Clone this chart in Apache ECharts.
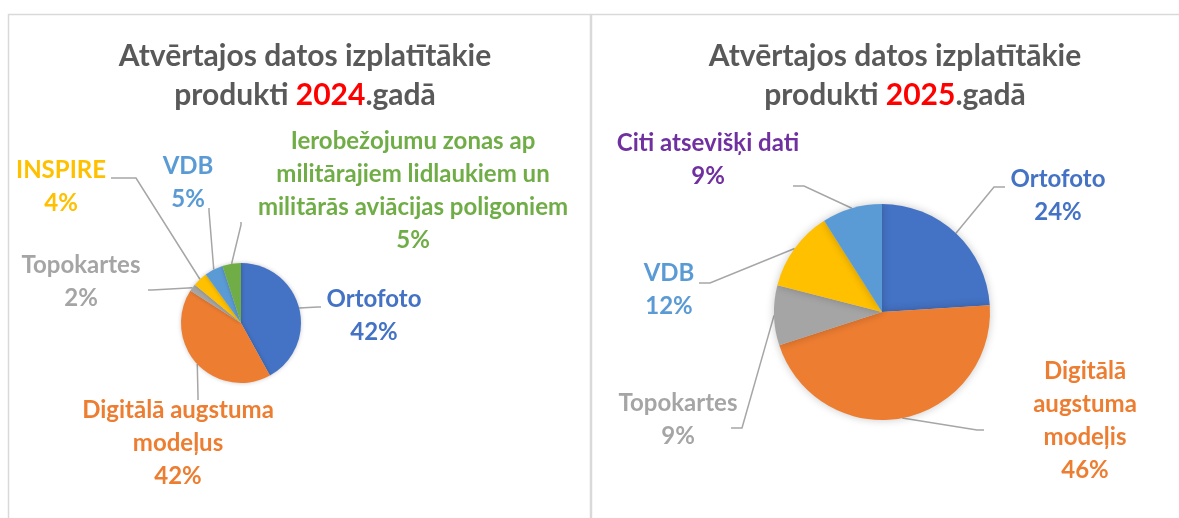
<!DOCTYPE html>
<html>
<head>
<meta charset="utf-8">
<script src="https://cdn.jsdelivr.net/npm/echarts@6/dist/echarts.min.js"></script>
<style>
html, body { margin: 0; background: #fff; }
#chart { width: 1179px; height: 518px; }
</style>
</head>
<body>
<div id="chart"></div>
<script>
// data
const years = ['2024', '2025'];

const names2024 = [
    'Ortofoto',
    'Digitālā augstuma\nmodeļus',
    'Topokartes',
    'INSPIRE',
    'VDB',
    'Ierobežojumu zonas ap\nmilitārajiem lidlaukiem un\nmilitārās aviācijas poligoniem'
];
const values2024 = [42, 42, 2, 4, 5, 5];

const names2025 = ['Ortofoto', 'Digitālā\naugstuma\nmodeļis', 'Topokartes', 'VDB', 'Citi atsevišķi dati'];
const values2025 = [24, 46, 9, 12, 9];

// colours
const sliceColors2024 = ['#4472C4', '#ED7D31', '#A5A5A5', '#FFC000', '#5B9BD5', '#70AD47'];
const labelColors2024 = ['#4472C4', '#ED7D31', '#A5A5A5', '#FFC000', '#5B9BD5', '#70AD47'];
const sliceColors2025 = ['#4472C4', '#ED7D31', '#A5A5A5', '#FFC000', '#5B9BD5'];
const labelColors2025 = ['#4472C4', '#ED7D31', '#A5A5A5', '#5B9BD5', '#7030A0'];

// label anchor (centre of the label block), px
const labelPos = [
    [[374, 316], [178, 443], [81, 282], [61, 187], [188, 183], [413, 191]],
    [[1058, 196], [1085, 421], [678, 420], [669, 290], [708, 160]]
];
// leader line: bend point and end point near the label, px
const leaderEnds = [
    [[[318, 307], [321, 307]], [[198, 396], [198, 400]], [[152, 290], [148, 290]],
     [[136, 178], [111, 178]], [[209, 211], [209, 208]], [[241, 225], [241, 222]]],
    [[[994, 187], [1005, 187]], [[977, 430], [984, 430]], [[742, 428], [731, 428]],
     [[710, 283], [699, 283]], [[804, 186], [793, 186]]]
];

const FONT = 'Lato';

function makeData(names, values, slices, labels) {
    return names.map((n, i) => ({
        name: n,
        value: values[i],
        itemStyle: {color: slices[i]},
        label: {color: labels[i]}
    }));
}

function makeTitle(year, x) {
    return {
        text: 'Atvērtajos datos izplatītākie\nprodukti {r|' + year + '}.gadā',
        left: x,
        top: 32,
        textAlign: 'center',
        textStyle: {
            fontFamily: FONT,
            fontSize: 30,
            fontWeight: 'bold',
            color: '#595959',
            lineHeight: 39,
            rich: {
                r: {fontFamily: FONT, fontSize: 30, fontWeight: 'bold', color: '#FF0000', lineHeight: 39}
            }
        }
    };
}

function makePie(data, center, radius, idx) {
    return {
        type: 'pie',
        center: center,
        radius: radius,
        startAngle: 90,
        clockwise: true,
        avoidLabelOverlap: false,
        animation: false,
        silent: true,
        data: data,
        itemStyle: {
            borderColor: '#fff',
            borderWidth: 0,
            shadowBlur: idx === 1 ? 8 : 4,
            shadowColor: 'rgba(0,0,0,0.22)'
        },
        label: {
            show: true,
            position: 'outside',
            fontFamily: FONT,
            fontSize: 24,
            fontWeight: 'bold',
            lineHeight: 33,
            align: 'center',
            formatter: p => p.name + '\n' + Math.round(p.percent) + '%'
        },
        labelLine: {
            show: true,
            length: 15,
            length2: 10,
            lineStyle: {color: '#A6A6A6', width: 1.5}
        },
        labelLayout: params => {
            const pos = labelPos[idx][params.dataIndex];
            const res = {x: pos[0], y: pos[1], align: 'center', verticalAlign: 'middle'};
            const pts = params.labelLinePoints;
            const ends = leaderEnds[idx][params.dataIndex];
            if (pts && pts.length) {
                // start point comes from the slice itself
                res.labelLinePoints = [pts[0], ends[0], ends[1]];
            }
            return res;
        }
    };
}

const option = {
    backgroundColor: '#fff',
    graphic: [
        {type: 'rect', shape: {x: 8.5, y: 14.5, width: 582, height: 520}, style: {fill: 'none', stroke: '#D9D9D9', lineWidth: 1.5}},
        {type: 'rect', shape: {x: 591.5, y: 14.5, width: 600, height: 520}, style: {fill: 'none', stroke: '#D9D9D9', lineWidth: 1.5}}
    ],
    title: [makeTitle(years[0], 300), makeTitle(years[1], 890)],
    series: [
        makePie(makeData(names2024, values2024, sliceColors2024, labelColors2024), [241, 323], 60, 0),
        makePie(makeData(names2025, values2025, sliceColors2025, labelColors2025), [882, 312], 108, 1)
    ]
};

const myChart = echarts.init(document.getElementById('chart'));
myChart.setOption(option);
window.addEventListener('resize', myChart.resize, false);
</script>
</body>
</html>
